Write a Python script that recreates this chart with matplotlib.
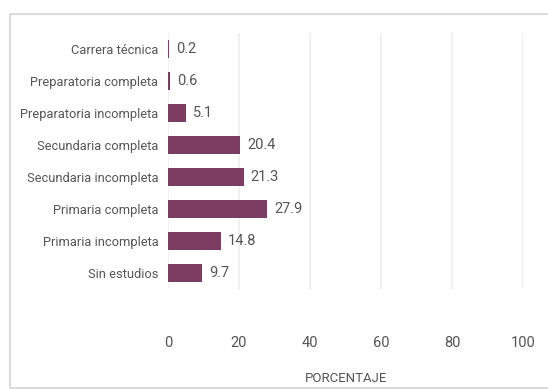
import matplotlib
matplotlib.use("Agg")
import matplotlib.pyplot as plt
from matplotlib.patches import Rectangle
from matplotlib import font_manager

# escolaridad, de arriba hacia abajo
categorias = ["Carrera técnica", "Preparatoria completa", "Preparatoria incompleta",
              "Secundaria completa", "Secundaria incompleta", "Primaria completa",
              "Primaria incompleta", "Sin estudios"]
porcentajes = [0.2, 0.6, 5.1, 20.4, 21.3, 27.9, 14.8, 9.7]
ticks_x = [0, 20, 40, 60, 80, 100]

names = sorted({f.name for f in font_manager.fontManager.ttflist})
fuente = "Roboto" if "Roboto" in names else "DejaVu Sans"
plt.rcParams["font.family"] = [fuente, "DejaVu Sans"]

gris = "#555555"
color_barra = "#7d3c62"

fig = plt.figure(figsize=(5.48, 3.90), dpi=100)
ax = fig.add_axes([0.3066, 0.259, 0.648, 0.656])

# marco gris alrededor del grafico
fig.patches.append(Rectangle((10 / 548, 2 / 390), 1.2, 374 / 390, transform=fig.transFigure,
                             fill=False, edgecolor="#d4d4d4", linewidth=1.2))

y = list(range(len(categorias)))
ax.barh(y, porcentajes, height=0.56, color=color_barra, zorder=3)
for yi, v in zip(y, porcentajes):
    ax.text(v + 2.0, yi, f"{v}", va="center", ha="left", fontsize=10.5, color=gris)

ax.set_ylim(len(categorias) - 0.5, -0.5)
ax.set_xlim(0, 100)
ax.set_yticks(y)
ax.set_yticklabels(categorias, fontsize=9.3, color=gris)
ax.set_xticks(ticks_x)
ax.set_xticklabels([str(t) for t in ticks_x], fontsize=10.5, color=gris)
ax.tick_params(axis="y", length=0, pad=7)
ax.tick_params(axis="x", length=0, pad=34)
ax.set_xlabel("PORCENTAJE", fontsize=9.5, color=gris, labelpad=16)

ax.grid(axis="x", color="#ededed", linewidth=1.2, zorder=0)
for s in ax.spines.values():
    s.set_visible(False)

fig.savefig("out.png", dpi=100)
